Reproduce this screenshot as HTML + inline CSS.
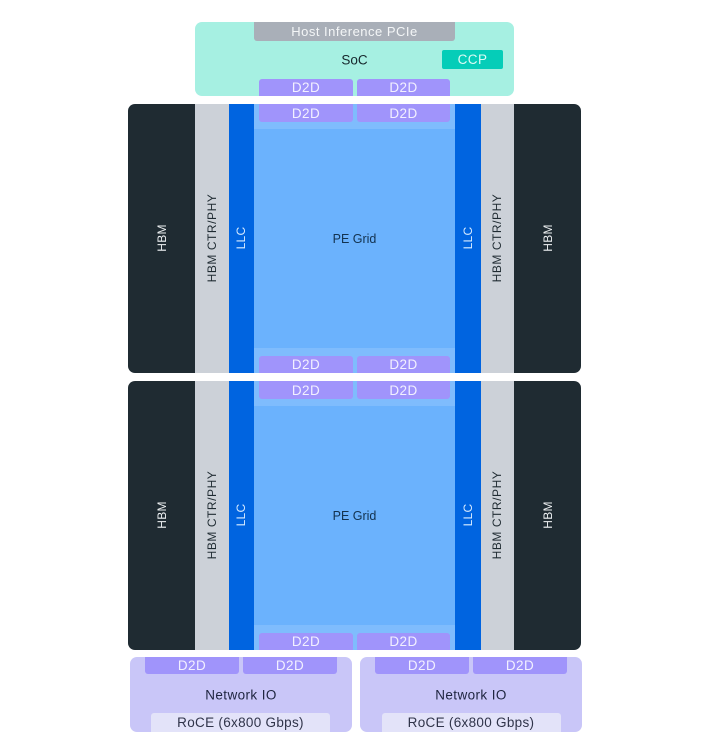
<!DOCTYPE html>
<html>
<head>
<meta charset="utf-8">
<style>
html,body{margin:0;padding:0;background:#fff;}
body{width:720px;height:751px;overflow:hidden;position:relative;font-family:"Liberation Sans","DejaVu Sans",sans-serif;}
.a{position:absolute;}
.t{position:absolute;display:flex;align-items:center;justify-content:center;white-space:nowrap;box-sizing:border-box;}
.d{position:absolute;display:flex;align-items:center;justify-content:center;background:#a094fb;color:#f2f0ff;font-size:13.5px;letter-spacing:.4px;height:18px;}
.v{position:absolute;white-space:nowrap;font-size:12px;letter-spacing:.25px;transform:translate(-50%,-50%) rotate(-90deg);}
.w{letter-spacing:.55px;}
.c{position:absolute;white-space:nowrap;transform:translate(-50%,-50%);}
</style>
</head>
<body>

<!-- SoC -->
<div class="a" style="left:195px;top:22px;width:319px;height:74px;background:#a6f0e2;border-radius:7px;"></div>
<div class="t" style="left:254px;top:22px;width:201px;height:19px;background:#a9afb8;border-radius:0 0 3px 3px;color:#f4f6f7;font-size:13px;letter-spacing:.5px;">Host Inference PCIe</div>
<div class="c" style="left:354.5px;top:60px;font-size:13.5px;color:#16272c;">SoC</div>
<div class="t" style="left:442px;top:50px;width:61px;height:19px;background:#05cdb8;border-radius:2px;color:#dcfbf5;font-size:13.5px;letter-spacing:.4px;">CCP</div>
<div class="d" style="left:259px;top:79px;width:94px;height:17px;border-radius:3px 3px 0 0;">D2D</div>
<div class="d" style="left:357px;top:79px;width:93px;height:17px;border-radius:3px 3px 0 0;">D2D</div>

<!-- Die 1 -->
<div class="a" style="left:128px;top:104px;width:67px;height:269px;background:#1f2b32;border-radius:7px 0 0 7px;"></div>
<div class="a" style="left:195px;top:104px;width:34px;height:269px;background:#ccd1d8;"></div>
<div class="a" style="left:229px;top:104px;width:25px;height:269px;background:#0064e0;"></div>
<div class="a" style="left:254px;top:104px;width:201px;height:269px;background:#6bb2fd;"></div>
<div class="a" style="left:254px;top:104px;width:201px;height:25px;background:#7fbcfd;"></div>
<div class="a" style="left:254px;top:348px;width:201px;height:25px;background:#7fbcfd;"></div>
<div class="a" style="left:455px;top:104px;width:25.5px;height:269px;background:#0064e0;"></div>
<div class="a" style="left:480.5px;top:104px;width:33.5px;height:269px;background:#ccd1d8;"></div>
<div class="a" style="left:514px;top:104px;width:67px;height:269px;background:#1f2b32;border-radius:0 7px 7px 0;"></div>
<div class="d" style="left:259px;top:104px;width:94px;border-radius:0 0 3px 3px;">D2D</div>
<div class="d" style="left:357px;top:104px;width:93px;border-radius:0 0 3px 3px;">D2D</div>
<div class="d" style="left:259px;top:356px;width:94px;height:17px;border-radius:3px 3px 0 0;">D2D</div>
<div class="d" style="left:357px;top:356px;width:93px;height:17px;border-radius:3px 3px 0 0;">D2D</div>
<div class="v" style="left:161.5px;top:238px;color:#eef1f3;">HBM</div>
<div class="v w" style="left:212px;top:238px;color:#1f2b32;">HBM CTR/PHY</div>
<div class="v" style="left:241px;top:238px;color:#d8ebff;">LLC</div>
<div class="c" style="left:354.5px;top:238.5px;font-size:12.5px;color:#13324f;">PE Grid</div>
<div class="v" style="left:467.5px;top:238px;color:#d8ebff;">LLC</div>
<div class="v w" style="left:497px;top:238px;color:#1f2b32;">HBM CTR/PHY</div>
<div class="v" style="left:547.5px;top:238px;color:#eef1f3;">HBM</div>

<!-- Die 2 -->
<div class="a" style="left:128px;top:381px;width:67px;height:269px;background:#1f2b32;border-radius:7px 0 0 7px;"></div>
<div class="a" style="left:195px;top:381px;width:34px;height:269px;background:#ccd1d8;"></div>
<div class="a" style="left:229px;top:381px;width:25px;height:269px;background:#0064e0;"></div>
<div class="a" style="left:254px;top:381px;width:201px;height:269px;background:#6bb2fd;"></div>
<div class="a" style="left:254px;top:381px;width:201px;height:25px;background:#7fbcfd;"></div>
<div class="a" style="left:254px;top:625px;width:201px;height:25px;background:#7fbcfd;"></div>
<div class="a" style="left:455px;top:381px;width:25.5px;height:269px;background:#0064e0;"></div>
<div class="a" style="left:480.5px;top:381px;width:33.5px;height:269px;background:#ccd1d8;"></div>
<div class="a" style="left:514px;top:381px;width:67px;height:269px;background:#1f2b32;border-radius:0 7px 7px 0;"></div>
<div class="d" style="left:259px;top:381px;width:94px;border-radius:0 0 3px 3px;">D2D</div>
<div class="d" style="left:357px;top:381px;width:93px;border-radius:0 0 3px 3px;">D2D</div>
<div class="d" style="left:259px;top:633px;width:94px;height:17px;border-radius:3px 3px 0 0;">D2D</div>
<div class="d" style="left:357px;top:633px;width:93px;height:17px;border-radius:3px 3px 0 0;">D2D</div>
<div class="v" style="left:161.5px;top:515px;color:#eef1f3;">HBM</div>
<div class="v w" style="left:212px;top:515px;color:#1f2b32;">HBM CTR/PHY</div>
<div class="v" style="left:241px;top:515px;color:#d8ebff;">LLC</div>
<div class="c" style="left:354.5px;top:515.5px;font-size:12.5px;color:#13324f;">PE Grid</div>
<div class="v" style="left:467.5px;top:515px;color:#d8ebff;">LLC</div>
<div class="v w" style="left:497px;top:515px;color:#1f2b32;">HBM CTR/PHY</div>
<div class="v" style="left:547.5px;top:515px;color:#eef1f3;">HBM</div>

<!-- Network IO left -->
<div class="a" style="left:130px;top:657px;width:222px;height:75px;background:#c9c6f8;border-radius:7px;"></div>
<div class="d" style="left:145px;top:657px;width:94px;height:17px;border-radius:0 0 3px 3px;">D2D</div>
<div class="d" style="left:243px;top:657px;width:94px;height:17px;border-radius:0 0 3px 3px;">D2D</div>
<div class="c" style="left:241px;top:695px;font-size:13.5px;letter-spacing:.4px;color:#1f2540;">Network IO</div>
<div class="t" style="left:151px;top:713px;width:179px;height:19px;background:#e3e3f9;border-radius:3px 3px 0 0;color:#30344a;font-size:13.5px;letter-spacing:.3px;">RoCE (6x800 Gbps)</div>

<!-- Network IO right -->
<div class="a" style="left:360px;top:657px;width:222px;height:75px;background:#c9c6f8;border-radius:7px;"></div>
<div class="d" style="left:375px;top:657px;width:94px;height:17px;border-radius:0 0 3px 3px;">D2D</div>
<div class="d" style="left:473px;top:657px;width:94px;height:17px;border-radius:0 0 3px 3px;">D2D</div>
<div class="c" style="left:471px;top:695px;font-size:13.5px;letter-spacing:.4px;color:#1f2540;">Network IO</div>
<div class="t" style="left:381.5px;top:713px;width:179px;height:19px;background:#e3e3f9;border-radius:3px 3px 0 0;color:#30344a;font-size:13.5px;letter-spacing:.3px;">RoCE (6x800 Gbps)</div>

</body>
</html>
